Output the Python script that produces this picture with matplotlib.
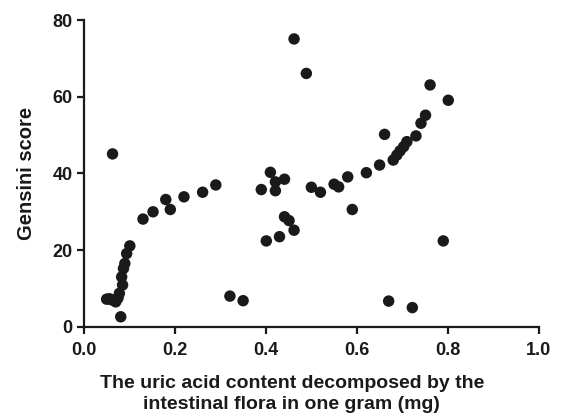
import matplotlib

matplotlib.use("Agg")
import matplotlib.pyplot as plt

# uric acid decomposed by gut flora (mg / g) vs Gensini score
uric_acid = [
    0.063, 0.050, 0.056, 0.062, 0.081, 0.078, 0.085, 0.083, 0.087, 0.090,
    0.094, 0.101, 0.130, 0.152, 0.180, 0.190, 0.220, 0.261, 0.290, 0.321,
    0.350, 0.390, 0.410, 0.421, 0.421, 0.441, 0.401, 0.430, 0.441, 0.451,
    0.462, 0.462, 0.489, 0.500, 0.520, 0.550, 0.560, 0.580, 0.590, 0.621,
    0.650, 0.661, 0.680, 0.688, 0.695, 0.703, 0.710, 0.730, 0.741, 0.751,
    0.761, 0.801, 0.790, 0.670, 0.722, 0.070, 0.075,
]
gensini = [
    45.1, 7.2, 7.3, 7.0, 2.6, 8.7, 10.9, 13.0, 15.2, 16.5,
    19.1, 21.1, 28.1, 30.0, 33.2, 30.6, 33.9, 35.1, 37.0, 8.0,
    6.8, 35.8, 40.3, 37.8, 35.5, 38.5, 22.4, 23.5, 28.7, 27.7,
    25.2, 75.1, 66.1, 36.4, 35.1, 37.2, 36.5, 39.1, 30.6, 40.2,
    42.2, 50.2, 43.5, 44.8, 45.9, 47.0, 48.3, 49.8, 53.1, 55.2,
    63.1, 59.1, 22.4, 6.7, 5.0, 6.5, 7.5,
]

plt.rcParams["font.family"] = ["Liberation Sans", "DejaVu Sans"]

fig = plt.figure(figsize=(5.63, 4.2), dpi=100)
ax = fig.add_axes([0.149, 0.222, 0.808, 0.73])
ax.scatter(uric_acid, gensini, s=68, color="#1a1a1a", edgecolors="none",
           zorder=3, clip_on=False)

ax.set_xlim(0, 1.0)
ax.set_ylim(0, 80)
ax.set_xticks([0.0, 0.2, 0.4, 0.6, 0.8, 1.0])
ax.set_yticks([0, 20, 40, 60, 80])
ax.set_xticklabels(["0.0", "0.2", "0.4", "0.6", "0.8", "1.0"])
for sp in ("top", "right"):
    ax.spines[sp].set_visible(False)
for sp in ("left", "bottom"):
    ax.spines[sp].set_linewidth(1.6)
    ax.spines[sp].set_color("#1a1a1a")
ax.tick_params(width=1.6, length=5, labelsize=13, colors="#1a1a1a", pad=3)
ax.tick_params(axis="x", pad=6)
for lab in ax.get_xticklabels() + ax.get_yticklabels():
    lab.set_fontweight("bold")

ax.set_xlabel("The uric acid content decomposed by the\nintestinal flora in one gram (mg)",
              fontsize=14, fontweight="bold", color="#1a1a1a",
              linespacing=1.3)
ax.xaxis.set_label_coords(0.457, -0.158, transform=ax.transAxes)
ax.xaxis.label.set_va("top")
ax.set_ylabel("Gensini score", fontsize=14.5, fontweight="bold",
              color="#1a1a1a", labelpad=12)

fig.savefig("out.png", dpi=100)
